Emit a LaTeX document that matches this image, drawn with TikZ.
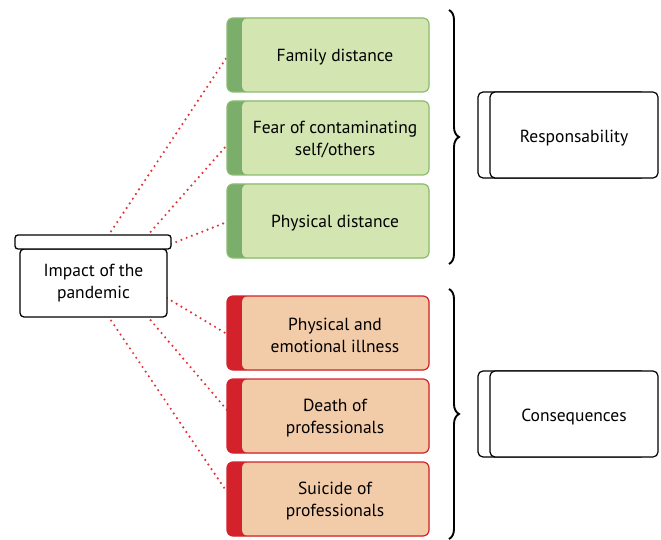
\documentclass[tikz,border=0pt]{standalone}
\usepackage{fontspec}
\setmainfont{PT Sans}
\usetikzlibrary{decorations.pathreplacing}
\definecolor{gfill}{HTML}{D3E5B1}
\definecolor{gdark}{HTML}{7BAE6B}
\definecolor{gline}{HTML}{8DBC70}
\definecolor{rfill}{HTML}{F2CBA9}
\definecolor{rdark}{HTML}{D3222B}
\definecolor{dotred}{HTML}{E0343A}
\tikzset{
  every node/.style={font=\fontsize{17.5}{22}\selectfont},
  catbox/.style={rectangle, rounded corners=6pt, minimum width=202pt, minimum height=74pt, line width=1.2pt, inner sep=0pt},
  greenbox/.style={catbox, draw=gline, fill=gfill,
    path picture={\fill[gdark] (path picture bounding box.south west) rectangle (path picture bounding box.north east);
      \fill[gfill, rounded corners=6pt] ([xshift=15pt]path picture bounding box.south west) rectangle (path picture bounding box.north east);}},
  redbox/.style={catbox, draw=rdark, fill=rfill,
    path picture={\fill[rdark] (path picture bounding box.south west) rectangle (path picture bounding box.north east);
      \fill[rfill, rounded corners=6pt] ([xshift=15pt]path picture bounding box.south west) rectangle (path picture bounding box.north east);}},
  boxtext/.style={xshift=7pt, yshift=-2pt, align=center},
  restext/.style={yshift=-3pt},
  resbox/.style={rectangle, rounded corners=5pt, draw=black, fill=white, line width=1.2pt, minimum width=168pt, minimum height=86pt},
  backbox/.style={rectangle, rounded corners=5pt, draw=black, fill=white, line width=1.2pt, minimum width=168pt, minimum height=86pt},
  dotline/.style={dotred, line width=2.4pt, line cap=round, dash pattern=on 0pt off 5.6pt},
  bracestyle/.style={decorate, decoration={brace, amplitude=10pt}, line width=1.9pt, black},
}
\begin{document}
\begin{tikzpicture}[x=1pt, y=-1pt]
\useasboundingbox (0,0) rectangle (661,540);
% dotted connectors (under boxes)
\coordinate (s1) at (108,236);
\coordinate (s2) at (147,236);
\coordinate (s3) at (171,244);
\coordinate (s4) at (167,298);
\coordinate (s5) at (147,316);
\coordinate (s6) at (108,316);
\coordinate (e1) at (227,57);
\coordinate (e2) at (227,145);
\coordinate (e3) at (227,222);
\coordinate (e4) at (227,334);
\coordinate (e5) at (227,410);
\coordinate (e6) at (227,492);
\draw[dotline] (s1) -- (e1);
\draw[dotline] (s2) -- (e2);
\draw[dotline] (s3) -- (e3);
\draw[dotline] (s4) -- (e4);
\draw[dotline] (s5) -- (e5);
\draw[dotline] (s6) -- (e6);
% left node
\node[rectangle, rounded corners=4pt, draw, fill=white, line width=1.3pt, minimum width=147pt, minimum height=68pt, align=center] (impact) at (93.5,283) {Impact of the\\pandemic};
\node[rectangle, rounded corners=3pt, draw, fill=white, line width=1.3pt, minimum width=156pt, minimum height=14pt, inner sep=0pt] (bar) at (93,242) {};
% category boxes
\node[greenbox] (g1) at (328,55) {};
\node[boxtext] (g1t) at (g1.center) {Family distance};
\node[greenbox] (g2) at (328,138) {};
\node[boxtext] (g2t) at (g2.center) {Fear of contaminating\\self/others};
\node[greenbox] (g3) at (328,221) {};
\node[boxtext] (g3t) at (g3.center) {Physical distance};
\node[redbox] (r1) at (328,333) {};
\node[boxtext] (r1t) at (r1.center) {Physical and\\emotional illness};
\node[redbox] (r2) at (328,416) {};
\node[boxtext] (r2t) at (r2.center) {Death of\\professionals};
\node[redbox] (r3) at (328,499) {};
\node[boxtext] (r3t) at (r3.center) {Suicide of\\professionals};
% right boxes
\node[backbox] (resb) at (562,135) {};
\node[resbox] (res) at (574,135) {};
\node[restext] (rest) at (res.center) {Responsability};
\node[backbox] (conb) at (562,414) {};
\node[resbox] (con) at (574,414) {};
\node[restext] (cont) at (con.center) {Consequences};
% braces
\coordinate (b1t) at (449,10);
\coordinate (b1b) at (449,264);
\coordinate (b2t) at (449,289);
\coordinate (b2b) at (449,539);
\draw[bracestyle] (b1t) -- (b1b);
\draw[bracestyle] (b2t) -- (b2b);
\end{tikzpicture}
\end{document}
